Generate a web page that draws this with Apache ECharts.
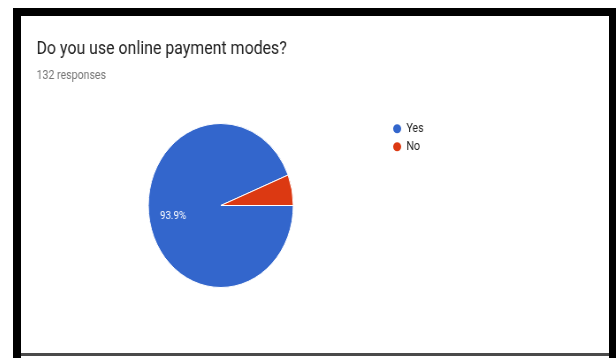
<!DOCTYPE html>
<html>
<head>
<meta charset="utf-8">
<script src="https://cdn.jsdelivr.net/npm/echarts@6/dist/echarts.min.js"></script>
<style>
  html, body { margin: 0; padding: 0; background: #fff; width: 616px; height: 358px; overflow: hidden; }
  #frame {
    position: absolute; left: 13px; top: 8px; width: 588px; height: 350px;
    border-left: 8px solid #000; border-right: 7px solid #000; border-top: 8px solid #000;
    background: #fff;
  }
  #rule { position: absolute; left: 0; top: 337px; width: 588px; height: 3px; background: #4a4a4a; }
  #chart {
    position: absolute; left: 0; top: 0; width: 665px; height: 337px;
    transform: scaleX(0.884); transform-origin: 0 0;
  }
</style>
</head>
<body>
<div id="frame">
  <div id="chart"></div>
  <div id="rule"></div>
</div>
<script>
// Survey question, answer options and response counts (132 responses in total)
const question = 'Do you use online payment modes?';
const responseNote = '132 responses';
const answers = ['Yes', 'No'];
const counts = [124, 8];
const colors = ['#3366cc', '#dc3912'];

const slices = answers.map((name, i) => ({ name: name, value: counts[i] }));
const font = 'Roboto, "Noto Sans", Arial, sans-serif';

const chart = echarts.init(document.getElementById('chart'), null, { renderer: 'canvas' });
chart.setOption({
  animation: false,
  color: colors,
  title: [
    {
      text: question, left: 17.5, top: 24.5, padding: 0,
      textStyle: { fontFamily: font, fontSize: 18, fontWeight: 'normal', color: '#212121' }
    },
    {
      text: responseNote, left: 17.5, top: 53.5, padding: 0,
      textStyle: { fontFamily: font, fontSize: 12, fontWeight: 'normal', color: '#757575' }
    }
  ],
  legend: {
    orient: 'vertical', left: 419, top: 106.2, padding: 0,
    itemWidth: 11, itemHeight: 11, itemGap: 5, icon: 'circle',
    data: answers,
    textStyle: { fontFamily: font, fontSize: 12, color: '#222' }
  },
  series: [
    {
      type: 'pie', center: [226, 189.5], radius: [0, 82],
      startAngle: 0, clockwise: true,
      data: slices,
      itemStyle: { borderColor: '#fff', borderWidth: 1 },
      label: { show: false }, labelLine: { show: false },
      emphasis: { disabled: true }
    },
    {
      // transparent ring used only to place the percentage labels further out
      type: 'pie', center: [226, 189.5], radius: [22, 82],
      startAngle: 0, clockwise: true, silent: true,
      data: slices,
      itemStyle: { color: 'rgba(0,0,0,0)' },
      label: {
        show: true, position: 'inside', color: '#fff',
        fontFamily: font, fontSize: 11,
        formatter: p => (p.percent >= 10 ? p.percent.toFixed(1) + '%' : '')
      },
      labelLine: { show: false },
      emphasis: { disabled: true }
    }
  ]
});
</script>
</body>
</html>
